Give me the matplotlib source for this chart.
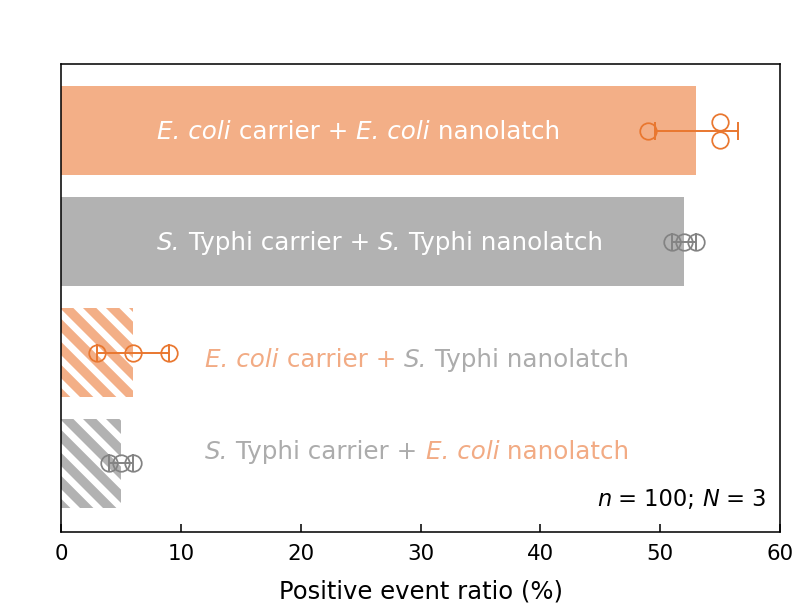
import numpy as np
import matplotlib
matplotlib.use('Agg')
import matplotlib.pyplot as plt
from matplotlib.collections import LineCollection
from matplotlib.transforms import IdentityTransform

plt.rcParams['font.family'] = ['DejaVu Sans']

# data
ypos = [3, 2, 1, 0]
means = [53, 52, 6, 5]
points = [[49, 55, 55], [51, 52, 53], [3, 6, 9], [4, 5, 6]]
hatched = [False, False, True, True]
kind = ['ec', 'st', 'ec', 'st']
labels = [
    [('E. coli', 'italic', 'w'), (' carrier + ', 'normal', 'w'), ('E. coli', 'italic', 'w'), (' nanolatch', 'normal', 'w')],
    [('S.', 'italic', 'w'), (' Typhi carrier + ', 'normal', 'w'), ('S.', 'italic', 'w'), (' Typhi nanolatch', 'normal', 'w')],
    [('E. coli', 'italic', 'ec'), (' carrier + ', 'normal', 'ec'), ('S.', 'italic', 'st'), (' Typhi nanolatch', 'normal', 'st')],
    [('S.', 'italic', 'st'), (' Typhi carrier + ', 'normal', 'st'), ('E. coli', 'italic', 'ec'), (' nanolatch', 'normal', 'ec')],
]
label_x = [8, 8, 12, 12]
label_y = [2.985, 1.985, 0.93, 0.10]
note = [('n', 'italic'), (' = 100; ', 'normal'), ('N', 'italic'), (' = 3', 'normal')]

bar_col = {'ec': '#f3af87', 'st': '#b2b2b2'}
pt_col = {'ec': '#e9772f', 'st': '#838383'}
txt_col = {'w': 'white', 'ec': '#f2ab84', 'st': '#acacac'}

fig = plt.figure(figsize=(795/140, 616/140), dpi=140)
ax = fig.add_axes([0.077, 0.136, 0.904, 0.760])
ax.set_xlim(0, 60)
ax.set_ylim(-0.62, 3.6)

bars = []
for i in range(4):
    b = ax.barh(ypos[i], means[i], height=0.8, color=bar_col[kind[i]], linewidth=0)
    bars.append(b[0])
    p = np.array(points[i], dtype=float)
    sd = p.std(ddof=1)
    ax.errorbar(means[i], ypos[i], xerr=sd, color=pt_col[kind[i]], capsize=4.8,
                elinewidth=1.0, capthick=1.0, fmt='none', zorder=3)
    # stack tied values vertically
    yy = np.full(len(p), float(ypos[i]))
    for v in np.unique(p):
        idx = np.where(p == v)[0]
        if len(idx) > 1:
            yy[idx] = ypos[i] + np.linspace(-0.08, 0.08, len(idx))
    ax.plot(p, yy, 'o', mfc='none', mec=pt_col[kind[i]], ms=8.5, mew=0.9, zorder=4)

# white diagonal stripes on the control bars
fig.canvas.draw()
period = 23.0
for i in range(4):
    if not hatched[i]:
        continue
    bb = bars[i].get_window_extent()
    segs = []
    c = bb.x0 + bb.y0 - period * 0.4
    while c < bb.x1 + bb.y1 + period:
        segs.append([(c - bb.y1 - 5, bb.y1 + 5), (c - bb.y0 + 5, bb.y0 - 5)])
        c += period
    lc = LineCollection(segs, colors='white', linewidths=3.5, transform=IdentityTransform(), zorder=2)
    ax.add_collection(lc, autolim=False)
    lc.set_clip_path(bars[i])

# labels with mixed italic / colour
for i in range(4):
    prev = None
    for s, st, cc in labels[i]:
        if prev is None:
            prev = ax.text(label_x[i], label_y[i], s, style=st, color=txt_col[cc],
                           fontsize=12.7, va='center', ha='left', zorder=5)
        else:
            prev = ax.annotate(s, xy=(1, 0), xycoords=prev, va='bottom', ha='left',
                               style=st, color=txt_col[cc], fontsize=12.7, zorder=5)

# n = 100; N = 3, built right to left
nxt = None
for s, st in note[::-1]:
    if nxt is None:
        nxt = ax.text(0.981, 0.0556, s, style=st, transform=ax.transAxes,
                      fontsize=11.6, va='baseline', ha='right')
    else:
        nxt = ax.annotate(s, xy=(0, 0), xycoords=nxt, va='bottom', ha='right',
                          style=st, fontsize=11.6)

ax.set_yticks([])
ax.set_xticks(range(0, 61, 10))
ax.tick_params(axis='x', direction='in', length=4, width=0.8, labelsize=11, pad=6)
for sp in ax.spines.values():
    sp.set_linewidth(0.8)
ax.set_xlabel('Positive event ratio (%)', fontsize=12.5, labelpad=8)

plt.savefig('out.png', dpi=140)
